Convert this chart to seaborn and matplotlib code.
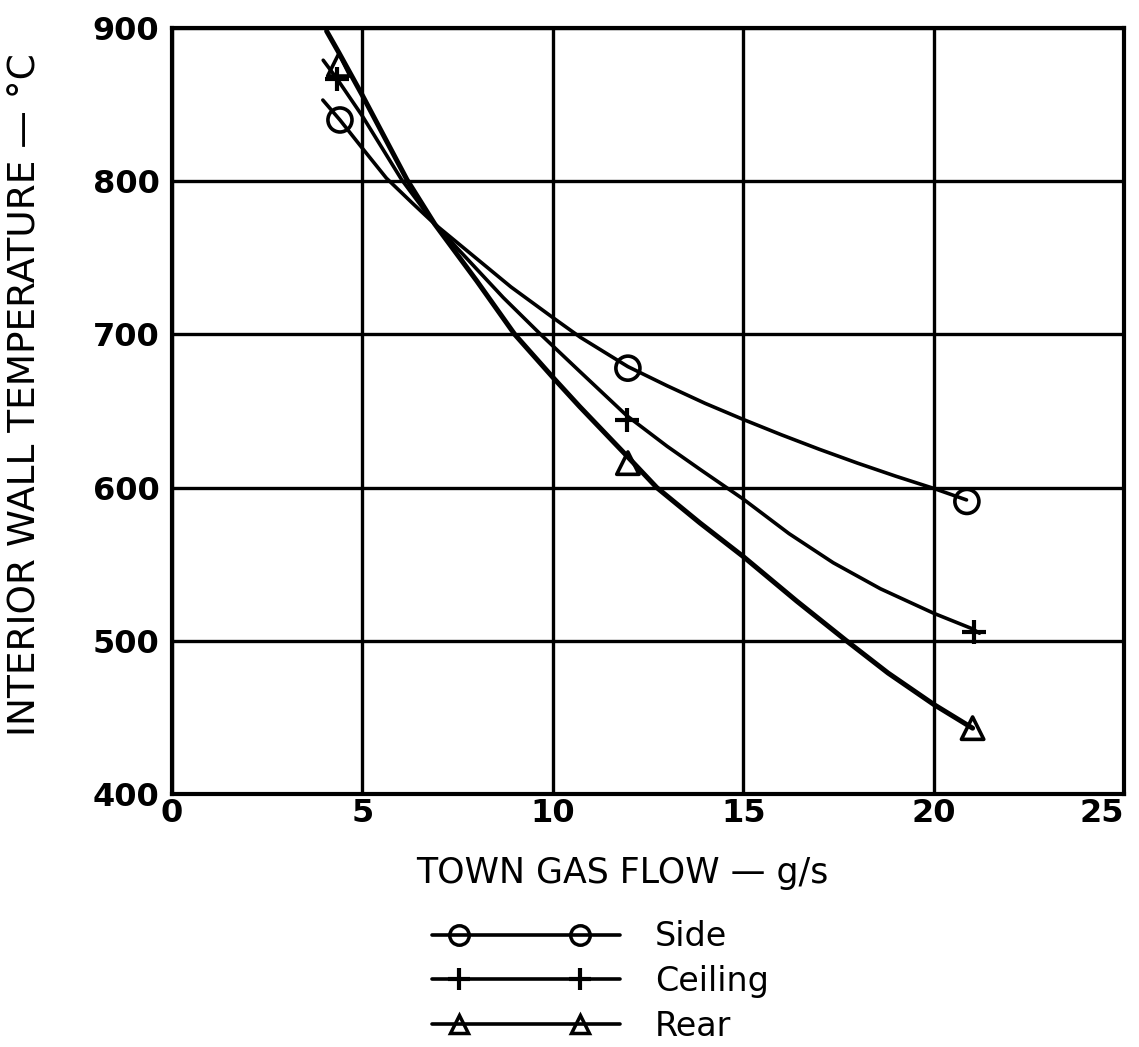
import matplotlib
matplotlib.use("Agg")
import numpy as np
import matplotlib.pyplot as plt
import seaborn as sns
import pandas as pd
from matplotlib.lines import Line2D
from matplotlib.legend_handler import HandlerLine2D, HandlerTuple

# ---- data ----
series_names = ["Side", "Ceiling", "Rear"]

# measured points (markers)
side_x = [4.41, 11.97, 20.87]
side_y = [840, 678, 591]
ceiling_x = [4.33, 11.94, 21.05]
ceiling_y = [867, 644, 506]
rear_x = [4.38, 11.97, 21.02]
rear_y = [876, 616, 443]

# hand-drawn fitted curves
side_curve_x = [3.96, 4.41, 5.0, 5.63, 6.3, 6.9, 7.73, 8.9, 10.0, 10.73, 11.97,
                13.0, 14.0, 15.0, 16.0, 17.0, 18.0, 19.0, 20.0, 20.86]
side_curve_y = [853, 840, 821.5, 802, 786, 772, 755, 731, 711, 698, 679,
                666.5, 655, 644.5, 634.5, 625, 616, 607.5, 599.5, 592]
ceiling_curve_x = [3.97, 4.33, 5.0, 6.03, 6.9, 7.8, 8.7, 9.68, 10.7, 11.94, 13.0,
                   13.86, 15.0, 16.2, 17.36, 18.6, 20.0, 21.0, 21.2]
ceiling_curve_y = [879, 867, 842.5, 801, 772, 748, 724, 700, 676, 647, 627,
                   612, 592.5, 570, 551, 534, 518, 508, 505]
rear_curve_x = [4.06, 4.38, 5.0, 6.17, 6.9, 8.0, 9.0, 10.0, 10.7, 11.97, 12.73,
                13.86, 15.0, 16.4, 17.71, 18.8, 20.0, 21.02]
rear_curve_y = [898, 884, 856, 801, 772, 735, 700, 672, 653, 620, 600,
                577, 555, 526, 500, 479, 458.5, 443]

x_ticks = [0, 5, 10, 15, 20, 25]
y_ticks = [400, 500, 600, 700, 800, 900]

x_label = "TOWN GAS FLOW — g/s"
y_label = "INTERIOR WALL TEMPERATURE — °C"

# ---- plotting ----
sns.set_style("white")
plt.rcParams['font.family'] = ['DejaVu Sans']

fig = plt.figure(figsize=(11.39, 10.47), dpi=100)
ax = fig.add_axes([0.151, 0.2416, 0.836, 0.7316])

curves = [(side_curve_x, side_curve_y, 2.6),
          (ceiling_curve_x, ceiling_curve_y, 2.6),
          (rear_curve_x, rear_curve_y, 3.6)]
for cx, cy, lw in curves:
    df = pd.DataFrame({"x": cx, "y": cy})
    sns.lineplot(data=df, x="x", y="y", sort=False, estimator=None,
                 color="black", lw=lw, ax=ax, zorder=3)

marker_specs = [(side_x, side_y, "o", 300), (ceiling_x, ceiling_y, "+", 300), (rear_x, rear_y, "^", 260)]
for mx, my, mk, s in marker_specs:
    dfm = pd.DataFrame({"x": mx, "y": my})
    if mk == "+":
        sns.scatterplot(data=dfm, x="x", y="y", marker=mk, s=s, color="black",
                        linewidth=3, ax=ax, zorder=4)
    else:
        sns.scatterplot(data=dfm, x="x", y="y", marker=mk, s=s, facecolors="none",
                        edgecolor="black", linewidth=2.6, ax=ax, zorder=4)

ax.set_xlim(0, 25)
ax.set_ylim(400, 900)
ax.set_xticks(x_ticks)
ax.set_yticks(y_ticks)
ax.grid(True, color="black", lw=2.4)
ax.set_axisbelow(True)
for sp in ax.spines.values():
    sp.set_color("black")
    sp.set_linewidth(3)
ax.tick_params(axis="both", length=0, labelsize=23, colors="black")
ax.tick_params(axis="x", pad=3)
ax.tick_params(axis="y", pad=9)
for lab in ax.get_xticklabels() + ax.get_yticklabels():
    lab.set_fontweight("bold")
ax.get_xticklabels()[-1].set_horizontalalignment("right")

ax.set_xlabel(x_label, fontsize=25, color="black")
ax.xaxis.set_label_coords(0.473, -0.081)
ax.set_ylabel(y_label, fontsize=27, color="black")
ax.yaxis.set_label_coords(-0.135, 0.521)


class AsymLineHandler(HandlerLine2D):
    """Markers set in from the line ends by given fractions of the handle width."""
    def __init__(self, left_frac, right_frac, **kw):
        super().__init__(numpoints=2, **kw)
        self.left_frac = left_frac
        self.right_frac = right_frac

    def get_xdata(self, legend, xdescent, ydescent, width, height, fontsize):
        xd = np.array([-xdescent + self.left_frac * width,
                       -xdescent + self.right_frac * width])
        return xd, xd


handles = []
hm = {tuple: HandlerTuple(ndivide=1, pad=0)}
specs = [dict(marker="o", markersize=14, markerfacecolor="none", markeredgewidth=2.5),
         dict(marker="+", markersize=16, markeredgewidth=3),
         dict(marker="^", markersize=13, markerfacecolor="none", markeredgewidth=2.5)]
for sp_ in specs:
    ln = Line2D([], [], color="black", lw=2.6)
    mk = Line2D([], [], color="black", ls="none", **sp_)
    hm[ln] = AsymLineHandler(0.0, 1.0)
    hm[mk] = AsymLineHandler(0.145, 0.79)
    handles.append((ln, mk))

leg = fig.legend(handles, series_names, loc="upper left",
                 bbox_to_anchor=(0.379, 0.121), frameon=False, fontsize=24,
                 handlelength=5.65, handletextpad=1.05, labelspacing=0.35,
                 handler_map=hm, borderaxespad=0, borderpad=0)
for t in leg.get_texts():
    t.set_color("black")

fig.savefig("out.png", dpi=100)
